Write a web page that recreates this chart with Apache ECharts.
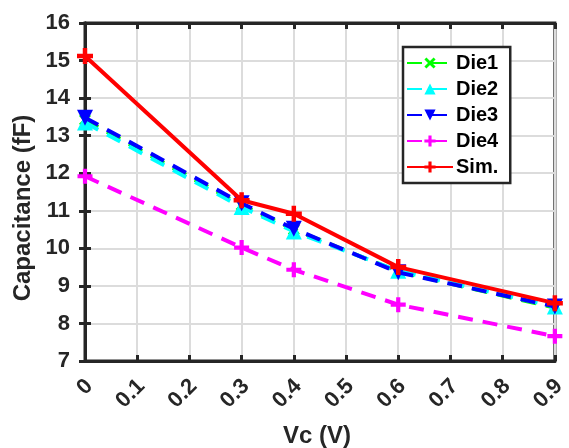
<!DOCTYPE html>
<html><head><meta charset="utf-8">
<script src="https://cdn.jsdelivr.net/npm/echarts@6/dist/echarts.min.js"></script>
<style>html,body{margin:0;padding:0;background:#fff}#c{width:569px;height:448px}</style>
</head><body><div id="c"></div>
<script>
const vc = [0, 0.3, 0.4, 0.6, 0.9];
const die1 = [13.42, 11.15, 10.5, 9.38, 8.42];
const die2 = [13.35, 11.1, 10.45, 9.4, 8.45];
const die3 = [13.48, 11.2, 10.52, 9.36, 8.45];
const die4 = [11.92, 10.02, 9.43, 8.5, 7.66];
const sim  = [15.12, 11.28, 10.92, 9.5, 8.54];
const names = ['Die1','Die2','Die3','Die4','Sim.'];
const colors = ['#00ff00','#00ffff','#0000ff','#ff00ff','#ff0000'];
const xTitle = 'Vc (V)';
const yTitle = 'Capacitance (fF)';

const plus = 'path://M3.6,0H6.4V3.6H10V6.4H6.4V10H3.6V6.4H0V3.6H3.6Z';
const cross = 'path://M1.8,0L5,3.2L8.2,0L10,1.8L6.8,5L10,8.2L8.2,10L5,6.8L1.8,10L0,8.2L3.2,5L0,1.8Z';
const symbols = [cross, 'triangle', 'path://M0,0H10L5,10Z', plus, plus];
const sizes = [12, 16, 16, 15, 16];
const datas = [die1, die2, die3, die4, sim];
const font = 'Liberation Sans, Arial, sans-serif';
const dark = '#262626';

const series = datas.map((d, i) => ({
  name: names[i],
  type: 'line',
  data: vc.map((x, j) => [x, d[j]]),
  symbol: symbols[i],
  symbolSize: sizes[i],
  showAllSymbol: true,
  color: colors[i],
  itemStyle: { color: colors[i] },
  lineStyle: { width: 4, color: colors[i], type: i === 4 ? 'solid' : [15, 10] },
  z: 2 + i,
  animation: false
}));

const tickStyle = { show: true, inside: true, length: 6, lineStyle: { color: dark, width: 3 } };
const lineStyleAxis = { show: true, lineStyle: { color: dark, width: 3 } };

const chart = echarts.init(document.getElementById('c'), null, {renderer: 'canvas'});
chart.setOption({
  animation: false,
  grid: { left: 85, right: 5, top: 23, bottom: 87, show: true, borderColor: dark, borderWidth: 3, backgroundColor: '#fff' },
  legend: {
    left: 403, top: 47, orient: 'vertical',
    data: names,
    itemWidth: 46, itemHeight: 14, itemGap: 6,
    padding: [6, 12, 6, 3],
    borderColor: dark, borderWidth: 2.5, backgroundColor: '#fff',
    textStyle: { fontFamily: font, fontWeight: 'bold', fontSize: 20, color: '#000', padding: [0,0,0,-2] }
  },
  xAxis: [{
    type: 'value', min: 0, max: 0.9, interval: 0.1,
    axisLine: lineStyleAxis,
    axisTick: tickStyle,
    axisLabel: { rotate: 45, margin: 26, padding: [0, -6, 0, 0], fontFamily: font, fontWeight: 'bold', fontSize: 22, color: dark,
      formatter: v => String(Math.round(v*10)/10) },
    splitLine: { show: true, lineStyle: { color: '#dcdcdc', width: 2 } }
  }, {
    type: 'value', min: 0, max: 0.9, interval: 0.1, position: 'top',
    axisLine: lineStyleAxis, axisTick: tickStyle,
    axisLabel: { show: false }, splitLine: { show: false }
  }],
  yAxis: [{
    type: 'value', min: 7, max: 16, interval: 1,
    axisLine: lineStyleAxis,
    axisTick: tickStyle,
    axisLabel: { margin: 15, fontFamily: font, fontWeight: 'bold', fontSize: 22, color: dark },
    splitLine: { show: true, lineStyle: { color: '#dcdcdc', width: 2 } }
  }, {
    type: 'value', min: 7, max: 16, interval: 1, position: 'right',
    axisLine: lineStyleAxis, axisTick: tickStyle,
    axisLabel: { show: false }, splitLine: { show: false }
  }],
  graphic: [
    { type: 'text', x: 317, y: 436, z: 10,
      style: { text: xTitle, font: 'bold 24px ' + font, fill: dark, align: 'center', verticalAlign: 'middle' } },
    { type: 'text', x: 23, y: 208, rotation: Math.PI / 2, z: 10,
      style: { text: yTitle, font: 'bold 24px ' + font, fill: dark, align: 'center', verticalAlign: 'middle' } }
  ],
  series: series
});
</script></body></html>
